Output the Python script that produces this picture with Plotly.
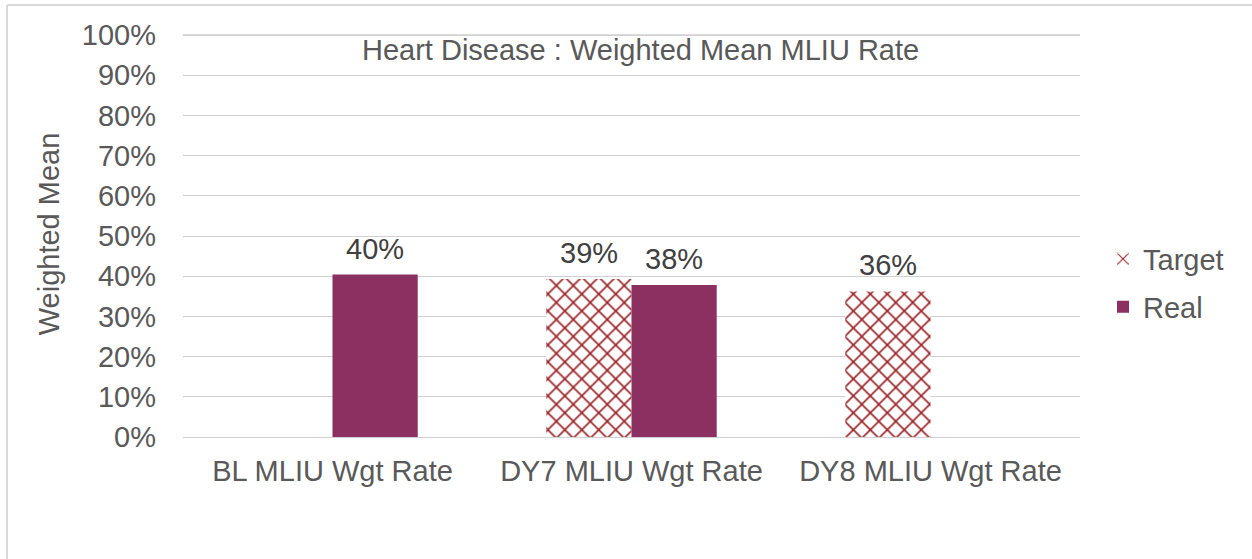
import plotly.graph_objects as go

categories = ["BL MLIU Wgt Rate", "DY7 MLIU Wgt Rate", "DY8 MLIU Wgt Rate"]
target_values = [None, 0.393, 0.362]
real_values = [0.404, 0.378, None]
y_ticks = [0, 0.1, 0.2, 0.3, 0.4, 0.5, 0.6, 0.7, 0.8, 0.9, 1.0]
y_tick_labels = ["0%", "10%", "20%", "30%", "40%", "50%", "60%", "70%", "80%", "90%", "100%"]

W, H = 1252, 559
L, R, B = 183, 1080, 437
Y_TOP_PX = 35          # pixel of the 100% line
Y_MAX = 1.01
T = B - (B - Y_TOP_PX) * Y_MAX

FONT = "Liberation Sans, Arial, sans-serif"
GREY = "#595959"
GRID = "#d0d0d0"
TARGET_COLOR = "#9a2327"
REAL_COLOR = "#8c3062"
FS = 29
BAR_HALF = 42.5

fig = go.Figure()
fig.add_trace(go.Bar(
    x=categories, y=target_values, name="Target",
    marker=dict(color="white", line=dict(width=0),
                pattern=dict(shape="x", fgcolor=TARGET_COLOR, bgcolor="white",
                             fgopacity=1, fillmode="replace",
                             size=12, solidity=0.25)),
    legend="legend",
))
fig.add_trace(go.Bar(
    x=categories, y=real_values, name="Real",
    marker=dict(color=REAL_COLOR, line=dict(width=0)),
    legend="legend2",
))

annotations = []
for vals, shift in ((target_values, -BAR_HALF), (real_values, BAR_HALF)):
    for c, v in zip(categories, vals):
        if v is None:
            continue
        annotations.append(dict(
            x=c, y=v, xref="x", yref="y", text=f"{round(v * 100)}%",
            showarrow=False, xshift=shift, yshift=26,
            xanchor="center", yanchor="middle",
            font=dict(size=FS, color="#404040", family=FONT)))

def px(xp):
    return (xp - L) / (R - L)

def py(yp):
    return (B - yp) / (B - T)

annotations.append(dict(text="Heart Disease : Weighted Mean MLIU Rate",
                        xref="paper", yref="paper", x=px(640), y=py(50),
                        xanchor="center", yanchor="middle", showarrow=False,
                        font=dict(size=FS, color=GREY)))

fig.update_layout(
    width=W, height=H,
    margin=dict(l=L, r=W - R, t=T, b=H - B, pad=0),
    paper_bgcolor="white", plot_bgcolor="white",
    font=dict(family=FONT, size=FS, color=GREY),
    barmode="group", bargap=0.43, bargroupgap=0,
    showlegend=True,
    legend=dict(x=px(1103), y=py(259), xanchor="left", yanchor="middle",
                font=dict(size=FS, color=GREY), bgcolor="rgba(0,0,0,0)",
                itemwidth=30),
    legend2=dict(x=px(1103), y=py(307), xanchor="left", yanchor="middle",
                 font=dict(size=FS, color=GREY), bgcolor="rgba(0,0,0,0)",
                 itemwidth=30),
    xaxis=dict(showgrid=False, showline=True, linecolor=GRID, linewidth=1,
               ticks="", tickfont=dict(size=FS, color=GREY),
               ticklabelstandoff=8),
    yaxis=dict(range=[0, Y_MAX], tickvals=y_ticks, ticktext=y_tick_labels,
               showgrid=True, gridcolor=GRID, gridwidth=1,
               zeroline=False, showline=False, ticks="",
               tickfont=dict(size=FS, color=GREY), ticklabelstandoff=26,
               title=dict(text="Weighted Mean", font=dict(size=FS, color=GREY),
                          standoff=13)),
    annotations=annotations,
    shapes=[
        # top gridline (100%)
        dict(type="line", xref="paper", yref="y", x0=0, x1=1,
             y0=y_ticks[-1], y1=y_ticks[-1], layer="above",
             line=dict(color=GRID, width=1.5)),
        # chart-area border (top and left edges visible)
        dict(type="line", xref="paper", yref="paper",
             x0=px(7), x1=px(W + 5), y0=py(5), y1=py(5),
             line=dict(color="#d9d9d9", width=2)),
        dict(type="line", xref="paper", yref="paper",
             x0=px(7), x1=px(7), y0=py(5), y1=py(H + 5),
             line=dict(color="#d9d9d9", width=2)),
    ],
)

fig.write_html("out.html", config={"displayModeBar": False},
               post_script="document.body.style.margin='0';")
